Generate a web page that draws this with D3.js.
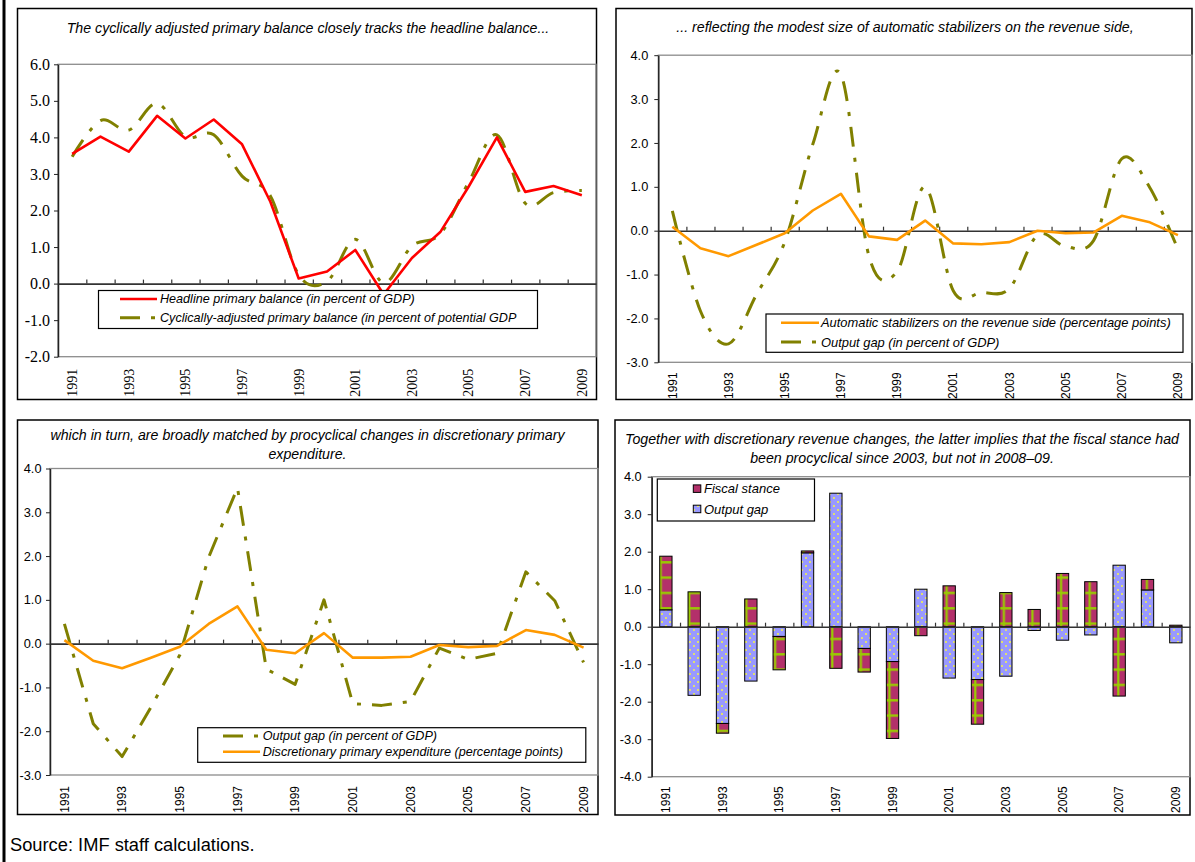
<!DOCTYPE html>
<html>
<head>
<meta charset="utf-8">
<script src="https://cdn.jsdelivr.net/npm/d3@7"></script>
<style>
  body { margin: 0; background: #fff; }
  svg { display: block; font-family: "Liberation Sans", Arial, sans-serif; }
</style>
</head>
<body>
<svg id="chart" width="1195" height="862"></svg>
<script>
// data (1991-2009)
const years = d3.range(1991, 2010).map(String);
const labelYears = years.filter((d, i) => i % 2 === 0);

const headlineBalance = [3.55, 4.02, 3.61, 4.59, 3.97, 4.49, 3.81, 2.24, 0.14, 0.33, 0.92, -0.3, 0.7, 1.41, 2.65, 4.0, 2.51, 2.67, 2.42];
const cyclicalBalance = [3.47, 4.46, 4.2, 4.93, 4.02, 4.07, 2.94, 2.4, 0.24, 0.06, 1.21, 0.02, 1.03, 1.36, 2.77, 4.07, 2.2, 2.49, 2.55];
const revenueStabilizers = [0.09, -0.4, -0.58, -0.32, -0.06, 0.46, 0.84, -0.13, -0.21, 0.23, -0.29, -0.31, -0.26, 0.0, -0.06, -0.04, 0.34, 0.19, -0.1];
const outputGap = [0.45, -1.83, -2.58, -1.45, -0.26, 1.97, 3.56, -0.58, -0.93, 1.0, -1.37, -1.41, -1.32, -0.1, -0.36, -0.22, 1.64, 0.98, -0.43];
const discretionaryExpenditure = [0.08, -0.39, -0.56, -0.32, -0.07, 0.45, 0.85, -0.14, -0.22, 0.24, -0.32, -0.32, -0.3, -0.03, -0.08, -0.05, 0.31, 0.2, -0.09];
const fiscalStance = [1.43, 0.93, -0.26, 0.74, -0.89, 0.05, -1.11, -0.63, -2.05, -0.24, 1.09, -1.19, 0.91, 0.46, 1.42, 1.2, -1.85, 0.28, 0.04];

const ticks1 = [-2, -1, 0, 1, 2, 3, 4, 5, 6];
const ticks2 = [-3, -2, -1, 0, 1, 2, 3, 4];
const ticks4 = [-4, -3, -2, -1, 0, 1, 2, 3, 4];

const RED = "#ff0000", ORANGE = "#ff9900", OLIVE = "#808000";
const DASH = "20,11,4,11";
const SERIF = "'Liberation Serif', 'Times New Roman', serif";
const SANS = "'Liberation Sans', Arial, sans-serif";

const svg = d3.select("#chart");

// fill patterns for the bars
const defs = svg.append("defs");
const pf = defs.append("pattern").attr("id", "patStance")
  .attr("patternUnits", "userSpaceOnUse")
  .attr("x", 688).attr("y", 607).attr("width", 28.6).attr("height", 15.33);
pf.append("rect").attr("width", 28.6).attr("height", 15.33).attr("fill", "#b3306a");
pf.append("line").attr("x1", 0).attr("x2", 28.6).attr("y1", 1.3).attr("y2", 1.3)
  .attr("stroke", "#99cc00").attr("stroke-width", 2.4);
pf.append("line").attr("x1", 1.3).attr("x2", 1.3).attr("y1", 0).attr("y2", 15.33)
  .attr("stroke", "#99cc00").attr("stroke-width", 2.2);

const pg = defs.append("pattern").attr("id", "patGap")
  .attr("patternUnits", "userSpaceOnUse")
  .attr("width", 8).attr("height", 8);
pg.append("rect").attr("width", 8).attr("height", 8).attr("fill", "#9999ff");
pg.append("circle").attr("cx", 2).attr("cy", 2).attr("r", 0.95).attr("fill", "#ffff33");
pg.append("circle").attr("cx", 6).attr("cy", 6).attr("r", 0.95).attr("fill", "#ffff33");

// page border on the left
svg.append("line").attr("x1", 4).attr("x2", 4).attr("y1", 0).attr("y2", 862)
  .attr("stroke", "#000").attr("stroke-width", 3);

function makePanel(p) {
  const g = svg.append("g");
  const x = d3.scaleBand().domain(years).range([p.left, p.right]);
  const y = d3.scaleLinear().domain(p.domain).range([p.bottom, p.top]);

  g.append("rect")
    .attr("x", p.box[0]).attr("y", p.box[1]).attr("width", p.box[2]).attr("height", p.box[3])
    .attr("fill", "none").attr("stroke", "#000").attr("stroke-width", 1.5);

  // plot area border
  g.append("rect")
    .attr("x", p.left).attr("y", p.top).attr("width", p.right - p.left).attr("height", p.bottom - p.top)
    .attr("fill", "none").attr("stroke", "#8c8c8c").attr("stroke-width", 1.3);

  p.title.forEach(function(t, i) {
    g.append("text")
      .attr("x", p.titleX).attr("y", p.titleY + i * 19)
      .attr("text-anchor", "middle")
      .style("font-style", "italic").style("font-size", "14.2px")
      .text(t);
  });

  const ya = g.append("g")
    .attr("transform", `translate(${p.left},0)`)
    .call(d3.axisLeft(y).tickValues(p.ticks).tickSize(4).tickSizeOuter(0)
      .tickPadding(p.pad).tickFormat(d => d.toFixed(1)));
  ya.attr("font-family", p.font).attr("font-size", p.fs);
  ya.select(".domain").attr("stroke", "#222").attr("stroke-width", 1.5);
  ya.selectAll(".tick line").attr("stroke", "#222");
  ya.selectAll("text").attr("fill", "#000");

  const xa = g.append("g")
    .attr("transform", `translate(0,${p.bottom})`)
    .call(d3.axisBottom(x).tickValues(labelYears).tickSize(0));
  xa.attr("font-family", p.font).attr("font-size", p.xfs);
  xa.select(".domain").remove();
  xa.selectAll("text")
    .attr("transform", "rotate(-90)")
    .attr("x", -p.xgap).attr("y", 0).attr("dy", "0.35em")
    .attr("fill", "#000")
    .style("text-anchor", "end");

  return { g: g, x: x, y: y, p: p };
}

// category axis running along zero, ticks between years
function zeroAxis(P) {
  const idx = d3.scaleLinear().domain([0, years.length]).range([P.p.left, P.p.right]);
  const za = P.g.append("g")
    .attr("transform", `translate(0,${P.y(0)})`)
    .call(d3.axisBottom(idx).tickValues(d3.range(1, years.length)).tickSize(-4).tickSizeOuter(0).tickFormat(""));
  za.select(".domain").attr("stroke", "#333").attr("stroke-width", 1.6);
  za.selectAll(".tick line").attr("stroke", "#333").attr("stroke-width", 1.2);
}

function drawLine(P, values, color, width, dash, smooth) {
  const line = d3.line()
    .x((d, i) => P.x(years[i]) + P.x.bandwidth() / 2)
    .y(d => P.y(d))
    .curve(smooth ? d3.curveCardinal.tension(0) : d3.curveLinear);
  P.g.append("path").datum(values)
    .attr("d", line)
    .attr("fill", "none")
    .attr("stroke", color)
    .attr("stroke-width", width)
    .attr("stroke-dasharray", dash || null)
    .attr("stroke-linejoin", "round");
}

function lineLegend(P, lg) {
  const g = P.g.append("g");
  g.append("rect")
    .attr("x", lg.box[0]).attr("y", lg.box[1]).attr("width", lg.box[2] - lg.box[0]).attr("height", lg.box[3] - lg.box[1])
    .attr("fill", "#fff").attr("stroke", "#000").attr("stroke-width", 1.2);
  lg.rows.forEach(function(r, i) {
    const yy = lg.rowY[i];
    g.append("line")
      .attr("x1", lg.sample[0]).attr("x2", lg.sample[1]).attr("y1", yy).attr("y2", yy)
      .attr("stroke", r.color).attr("stroke-width", r.width)
      .attr("stroke-dasharray", r.dash || null);
    g.append("text")
      .attr("x", lg.textX).attr("y", yy).attr("dy", "0.35em")
      .style("font-style", "italic").style("font-size", lg.fs || "12.6px")
      .text(r.label);
  });
}

// ---- panel 1
const P1 = makePanel({
  box: [17.5, 8.5, 579, 391], left: 58, right: 596, top: 64.3, bottom: 356.7,
  domain: [-2, 6], ticks: ticks1, pad: 4, font: SERIF, fs: 16, xfs: 14, xgap: 12,
  title: ["The cyclically adjusted primary balance closely tracks the headline balance..."],
  titleX: 308, titleY: 33
});
zeroAxis(P1);
drawLine(P1, cyclicalBalance, OLIVE, 3, DASH, true);
drawLine(P1, headlineBalance, RED, 2.6, null, false);
lineLegend(P1, {
  box: [98.5, 290.5, 537.5, 328.5], rowY: [299, 317.7], sample: [120, 157], textX: 160,
  rows: [
    { label: "Headline primary balance (in percent of GDP)", color: RED, width: 2.6 },
    { label: "Cyclically-adjusted primary balance (in percent of potential GDP", color: OLIVE, width: 3, dash: DASH }
  ]
});

// ---- panel 2
const P2 = makePanel({
  box: [616, 8.5, 576, 391], left: 658.3, right: 1192, top: 55.2, bottom: 362.3,
  domain: [-3, 4], ticks: ticks2, pad: 6, font: SANS, fs: 12.8, xfs: 12, xgap: 10,
  title: ["... reflecting the modest size of automatic stabilizers on the revenue side,"],
  titleX: 905, titleY: 32
});
zeroAxis(P2);
drawLine(P2, outputGap, OLIVE, 3, DASH, true);
drawLine(P2, revenueStabilizers, ORANGE, 2.6, null, false);
lineLegend(P2, {
  box: [766, 314, 1183, 352.3], rowY: [322.7, 342], sample: [781, 819], textX: 821, fs: "12.9px",
  rows: [
    { label: "Automatic stabilizers on the revenue side (percentage points)", color: ORANGE, width: 2.6 },
    { label: "Output gap (in percent of GDP)", color: OLIVE, width: 3, dash: DASH }
  ]
});

// ---- panel 3
const P3 = makePanel({
  box: [17.5, 420, 580.5, 394.5], left: 50, right: 598, top: 468.5, bottom: 775,
  domain: [-3, 4], ticks: ticks2, pad: 4.5, font: SANS, fs: 12.8, xfs: 12, xgap: 11,
  title: ["which in turn, are broadly matched by procyclical changes in discretionary primary", "expenditure."],
  titleX: 307.5, titleY: 440
});
zeroAxis(P3);
drawLine(P3, outputGap, OLIVE, 3, DASH, false);
drawLine(P3, discretionaryExpenditure, ORANGE, 2.6, null, false);
lineLegend(P3, {
  box: [197.7, 727.7, 585.8, 762.3], rowY: [736, 751.7], sample: [223, 260], textX: 262.7,
  rows: [
    { label: "Output gap (in percent of GDP)", color: OLIVE, width: 3, dash: DASH },
    { label: "Discretionary primary expenditure (percentage points)", color: ORANGE, width: 2.6 }
  ]
});

// ---- panel 4 (stacked bars)
const P4 = makePanel({
  box: [615, 420, 575, 395], left: 651.7, right: 1190, top: 476.7, bottom: 776.7,
  domain: [-4, 4], ticks: ticks4, pad: 6, font: SANS, fs: 12.8, xfs: 12, xgap: 9.5,
  title: ["Together with discretionary revenue changes, the latter implies that the fiscal stance had",
          "been procyclical since 2003, but not in 2008\u201309."],
  titleX: 902, titleY: 444
});

const barRows = years.map((yr, i) => ({ year: yr, gap: outputGap[i], stance: fiscalStance[i] }));
const stacked = d3.stack().keys(["gap", "stance"]).offset(d3.stackOffsetDiverging)(barRows);
const xb = d3.scaleBand().domain(years).range([P4.p.left, P4.p.right]).paddingInner(0.565).paddingOuter(0.2825);
const fills = { gap: "url(#patGap)", stance: "url(#patStance)" };

P4.g.selectAll("g.series")
  .data(stacked)
  .join("g")
  .attr("class", "series")
  .attr("fill", d => fills[d.key])
  .selectAll("rect")
  .data(d => d)
  .join("rect")
  .attr("x", d => xb(d.data.year))
  .attr("width", xb.bandwidth())
  .attr("y", d => P4.y(Math.max(d[0], d[1])))
  .attr("height", d => Math.abs(P4.y(d[0]) - P4.y(d[1])))
  .attr("stroke", "#000")
  .attr("stroke-width", 1);

zeroAxis(P4);

const lg4 = P4.g.append("g");
lg4.append("rect").attr("x", 657.3).attr("y", 479).attr("width", 157.2).attr("height", 42)
  .attr("fill", "#fff").attr("stroke", "#000").attr("stroke-width", 1.2);
[{ label: "Fiscal stance", fill: "#b3306a", y: 488.7 },
 { label: "Output gap", fill: "url(#patGap)", y: 509 }].forEach(function(r) {
  lg4.append("rect").attr("x", 693.3).attr("y", r.y - 3.8).attr("width", 7.5).attr("height", 7.5)
    .attr("fill", r.fill).attr("stroke", "#000").attr("stroke-width", 1);
  lg4.append("text").attr("x", 704).attr("y", r.y).attr("dy", "0.35em")
    .style("font-style", "italic").style("font-size", "13px")
    .text(r.label);
});

// source note
svg.append("text")
  .attr("x", 10).attr("y", 851)
  .style("font-size", "18.3px")
  .text("Source: IMF staff calculations.");
</script>
</body>
</html>
